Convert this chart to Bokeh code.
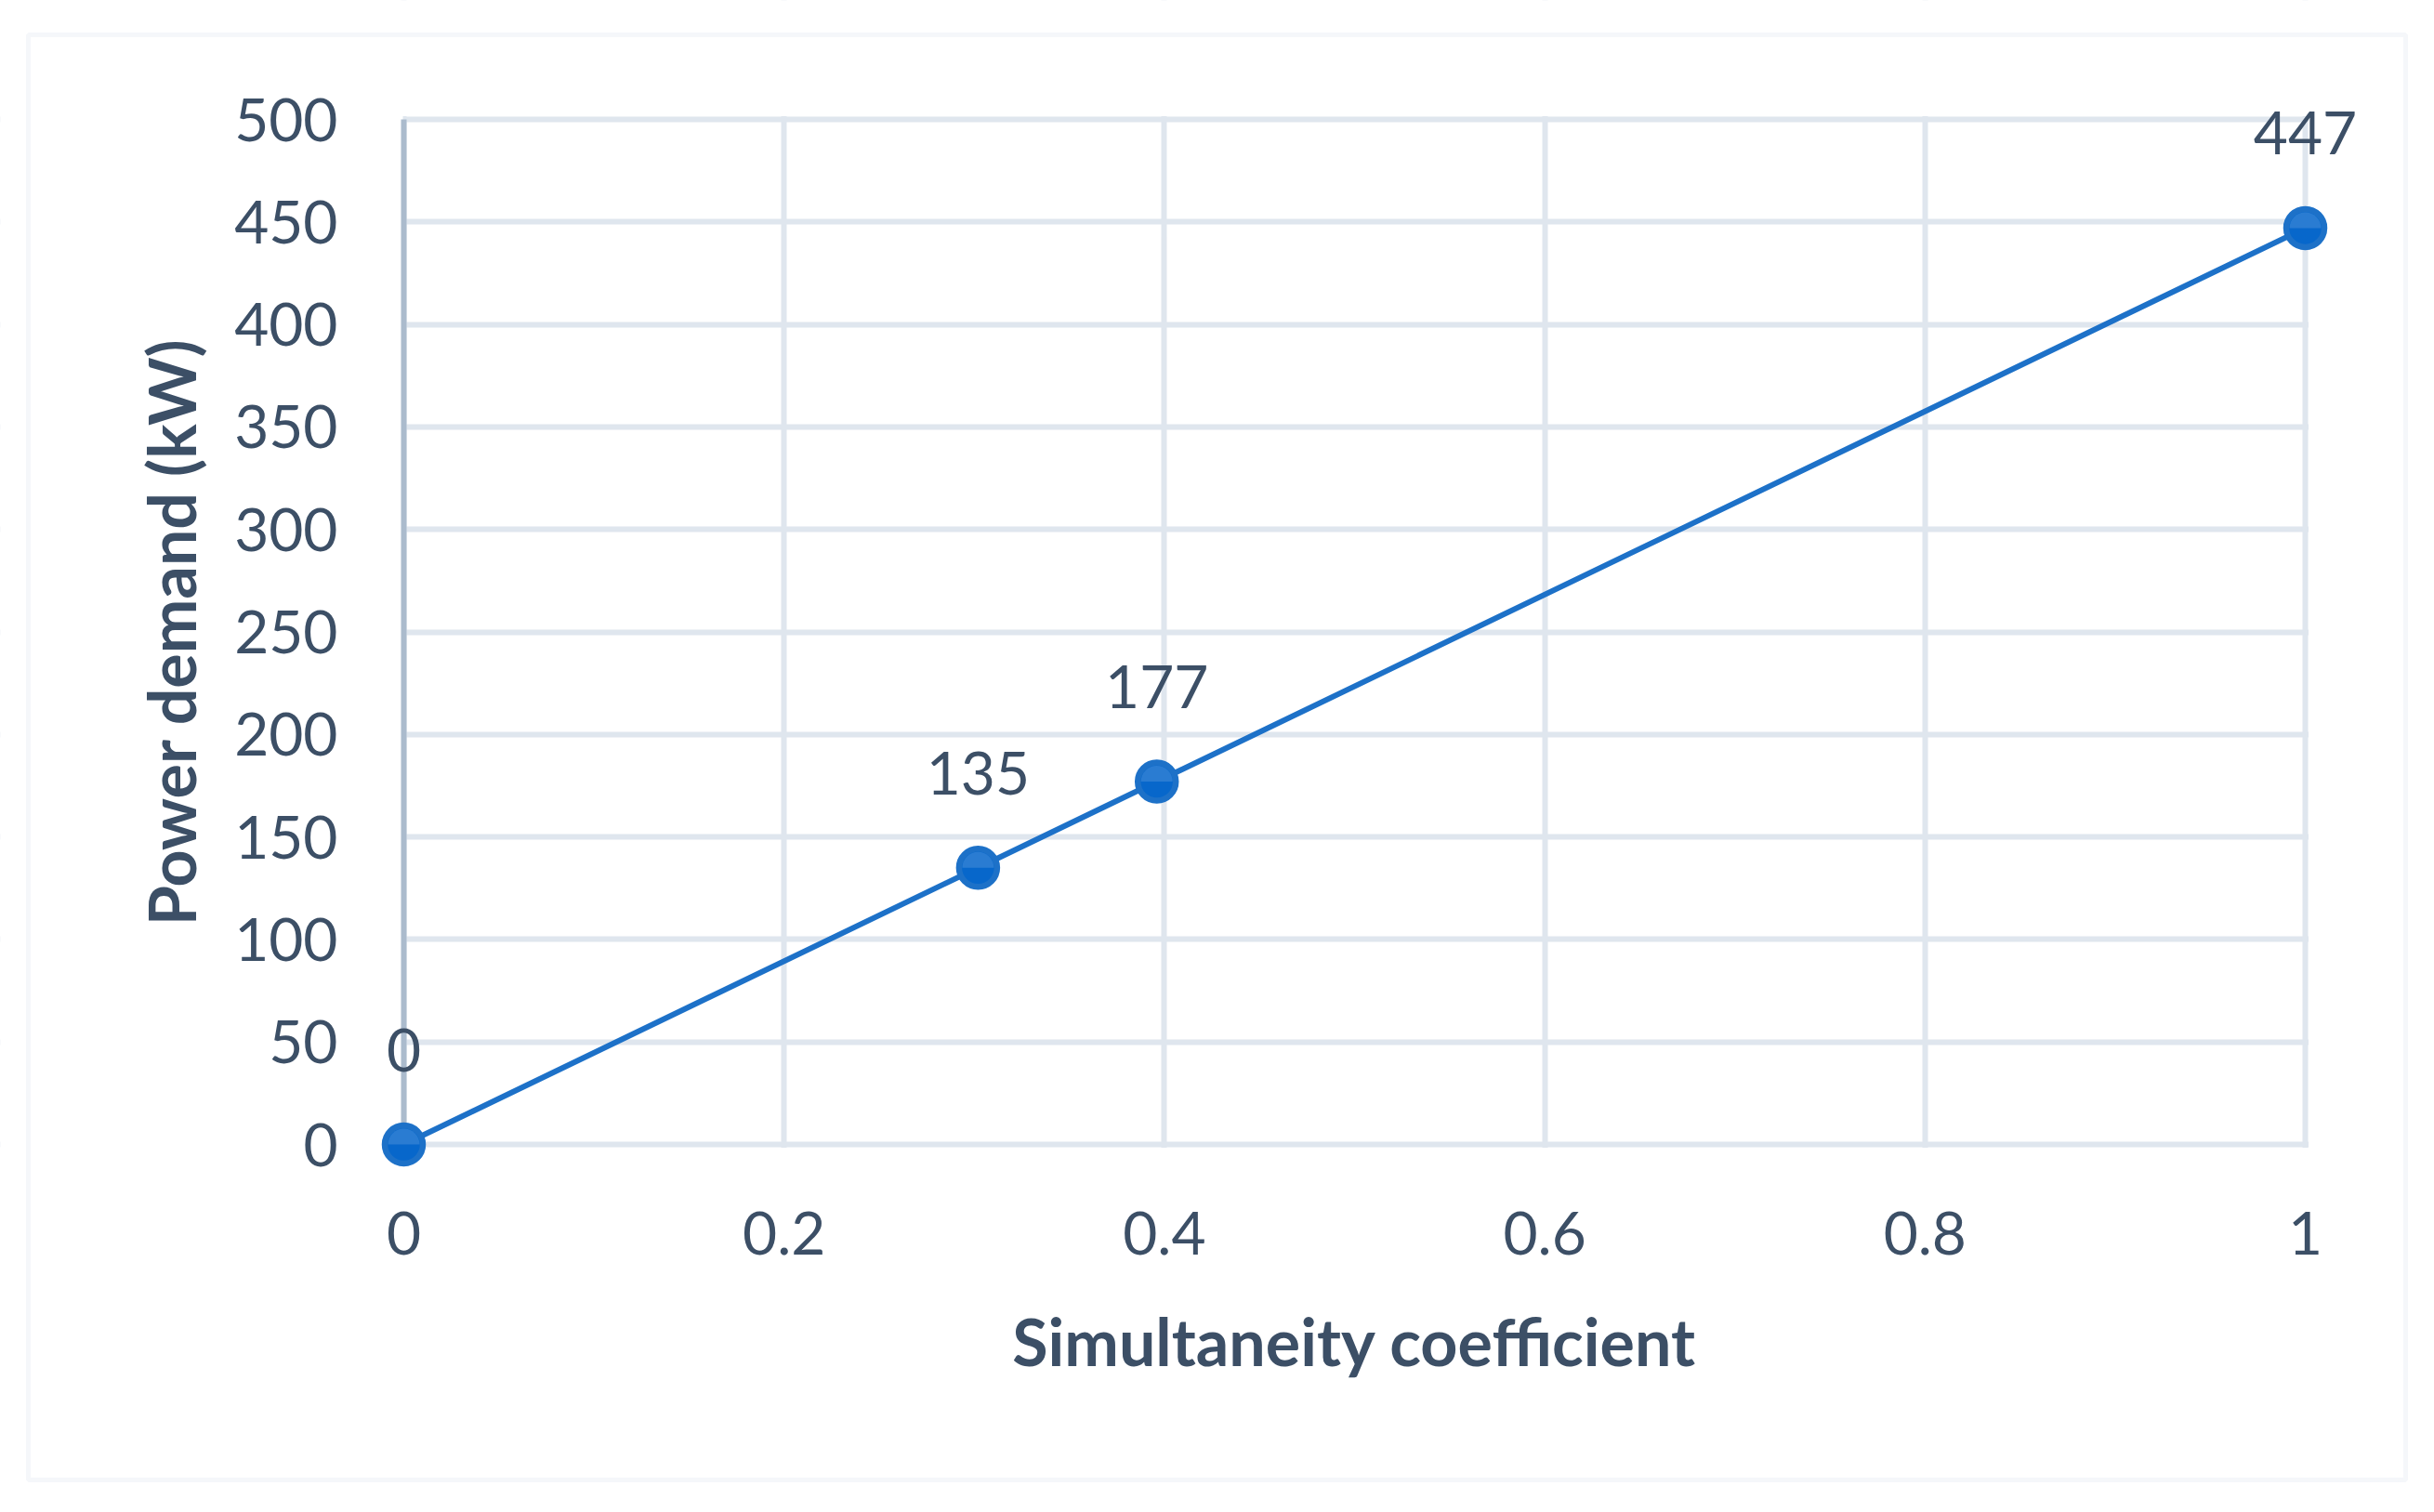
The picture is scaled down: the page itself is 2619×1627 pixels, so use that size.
import math
from bokeh.plotting import figure
from bokeh.models import (ColumnDataSource, FixedTicker, LabelSet, Label,
                          BoxAnnotation, Range1d)
from bokeh.core.properties import value
from bokeh.embed import file_html
from bokeh.resources import INLINE

# ---- data ----
coef = [0, 0.302, 0.396, 1]
power = [0, 135, 177, 447]
point_labels = ["0", "135", "177", "447"]
x_ticks = [0, 0.2, 0.4, 0.6, 0.8, 1]
x_tick_labels = ["0", "0.2", "0.4", "0.6", "0.8", "1"]
y_ticks = [0, 50, 100, 150, 200, 250, 300, 350, 400, 450, 500]
y_tick_labels = ["0", "50", "100", "150", "200", "250", "300", "350", "400", "450", "500"]
x_title = "Simultaneity coefficient"
y_title = "Power demand (kW)"

# ---- layout (canvas px); the frame fills the whole canvas ----
W, H = 2600, 1608
BOX_L, BOX_R, BOX_T, BOX_B = 434, 2480, 128, 1231     # data box
x_min, x_max = 0, 1
y_min, y_max = 0, 500
sx = (BOX_R - BOX_L) / (x_max - x_min)
sy = (BOX_B - BOX_T) / (y_max - y_min)

def px_x(px):   # canvas px -> data x
    return x_min + (px - BOX_L) / sx

def px_y(px):   # canvas px -> data y
    return y_min + (BOX_B - px) / sy

TEXT = "#3c4f66"
GRID = "#dfe6ee"
LINE = "#1d71c8"
FONT = "Lato"

p = figure(width=W, height=H, output_backend="svg", toolbar_location=None,
           title=None,
           x_range=Range1d(px_x(0), px_x(W)),
           y_range=Range1d(px_y(H), px_y(0)),
           min_border_left=0, min_border_right=0,
           min_border_top=0, min_border_bottom=0,
           background_fill_color="white", border_fill_color="white",
           outline_line_color=None)

# grids
p.xgrid.ticker = FixedTicker(ticks=x_ticks)
p.ygrid.ticker = FixedTicker(ticks=y_ticks)
for g in (p.xgrid[0], p.ygrid[0]):
    g.grid_line_color = GRID
    g.grid_line_width = 6

# white masks keep the grid inside the data box
for kw in (dict(right=x_min - 1 / sx), dict(left=x_max + 3.5 / sx),
           dict(top=y_min - 3.5 / sy), dict(bottom=y_max + 3.5 / sy)):
    p.add_layout(BoxAnnotation(fill_color="white", fill_alpha=1.0, line_color=None,
                               level="underlay", **kw))

# x axis
xa = p.xaxis[0]
xa.ticker = FixedTicker(ticks=x_ticks)
xa.major_label_overrides = {float(t): l for t, l in zip(x_ticks, x_tick_labels)}
xa.fixed_location = y_min
xa.axis_line_color = None
xa.major_tick_line_color = None
xa.minor_tick_line_color = None
xa.major_tick_out = 0
xa.major_tick_in = 0
xa.major_label_text_font = FONT
xa.major_label_text_font_size = "64px"
xa.major_label_text_color = TEXT
xa.major_label_standoff = 72

# y axis
ya = p.yaxis[0]
ya.ticker = FixedTicker(ticks=y_ticks)
ya.major_label_overrides = {float(t): l for t, l in zip(y_ticks, y_tick_labels)}
ya.fixed_location = x_min
ya.bounds = (y_min, y_max)
ya.axis_line_color = "#abbbcd"
ya.axis_line_width = 6
ya.major_tick_line_color = None
ya.minor_tick_line_color = None
ya.major_tick_out = 0
ya.major_tick_in = 0
ya.major_label_text_font = FONT
ya.major_label_text_font_size = "64px"
ya.major_label_text_color = TEXT
ya.major_label_standoff = 71

# axis titles
p.add_layout(Label(x=(x_min + x_max) / 2, y=y_min, y_offset=-211,
                   text=x_title, text_align="center", text_baseline="alphabetic",
                   text_font=FONT, text_font_style="bold", text_font_size="70px",
                   text_color=TEXT))
p.add_layout(Label(x=x_min, y=(y_min + y_max) / 2, x_offset=-251,
                   text=y_title, angle=math.pi / 2, text_align="center",
                   text_baseline="alphabetic",
                   text_font=FONT, text_font_style="bold", text_font_size="70px",
                   text_color=TEXT))

# data
src = ColumnDataSource(dict(x=coef, y=power, label=point_labels))
p.line("x", "y", source=src, line_color=LINE, line_width=6)
p.scatter("x", "y", source=src, size=41, fill_color="#0767cb",
          line_color=LINE, line_width=6.5, level="annotation")
# soft highlight on the upper half of each marker
p.wedge("x", "y", source=src, radius=17, radius_units="screen",
        start_angle=0, end_angle=math.pi, fill_color="white", fill_alpha=0.14,
        line_color=None, level="annotation")
p.add_layout(LabelSet(x="x", y="y", text="label", source=src, y_offset=102,
                      text_align="center", text_baseline="middle",
                      text_font=value(FONT), text_font_size=value("64px"),
                      text_color=TEXT))

# outer border
p.add_layout(BoxAnnotation(left=px_x(30), right=px_x(2588), top=px_y(37),
                           bottom=px_y(1592), fill_color=None, line_color=GRID,
                           line_width=5))

open("out.html", "w").write(file_html(p, INLINE))
